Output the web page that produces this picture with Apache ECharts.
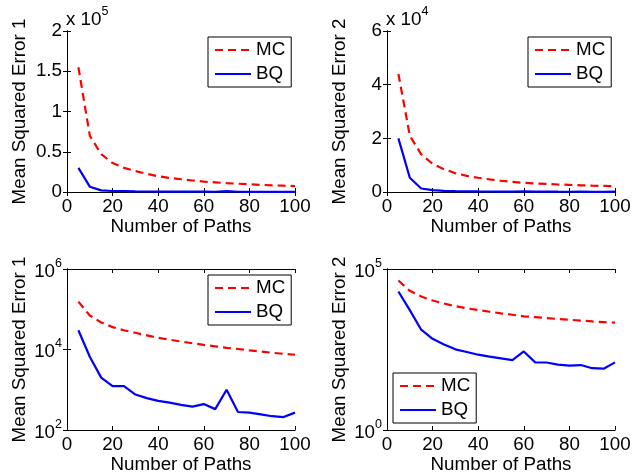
<!DOCTYPE html>
<html>
<head>
<meta charset="utf-8">
<script src="https://cdn.jsdelivr.net/npm/echarts@6/dist/echarts.min.js"></script>
<style>
html,body{margin:0;padding:0;background:#fff;}
#chart{width:642px;height:476px;}
</style>
</head>
<body>
<div id="chart"></div>
<script>
var paths = [5,10,15,20,25,30,35,40,45,50,55,60,65,70,75,80,85,90,95,100];
var mc1 = [155000,70000,47000,36000,30000,26000,22500,19500,17500,15800,14300,13000,12000,11000,10300,9500,8900,8300,7800,7400];
var bq1 = [30000,6600,2000,1230,1230,760,620,530,480,420,380,440,330,1000,280,270,245,220,210,270];
var mc2 = [44000,21000,14000,10500,8500,7000,6000,5300,4700,4200,3800,3400,3200,3000,2800,2650,2500,2350,2250,2150];
var bq2 = [20000,5300,1300,680,450,320,265,218,190,168,148,275,126,125,107,100,104,83,80,126];
var yNames = ['Mean Squared Error 1','Mean Squared Error 2','Mean Squared Error 1','Mean Squared Error 2'];
var xName = 'Number of Paths';

var font = '"Liberation Sans", Arial, Helvetica, sans-serif';
var fs = 18.8;
var black = '#000';
var red = '#ff0000';
var blue = '#0000ff';

var grids = [
    {left:67, top:31, width:228, height:161},
    {left:387, top:31, width:228, height:161},
    {left:67, top:269, width:228, height:161},
    {left:387, top:269, width:228, height:161}
];

function toXY(ys){
    return paths.map(function(p, i){ return [p, ys[i]]; });
}
function supLabel(v){
    return '{b|10}{s|' + Math.round(Math.log(v) / Math.LN10) + '}';
}

var tickStyle = {show:true, inside:true, length:4, lineStyle:{color:black, width:1}};
var lineStyle = {show:true, lineStyle:{color:black, width:1}};
var supRich = {
    b:{fontSize:fs, fontFamily:font, color:black, verticalAlign:'bottom', lineHeight:24},
    s:{fontSize:12.5, fontFamily:font, color:black, verticalAlign:'top', lineHeight:24}
};

var xAxes = [], yAxes = [];
for (var g = 0; g < 4; ++g){
    xAxes.push({
        type:'value', gridIndex:g, min:0, max:100, interval:20,
        name:xName, nameLocation:'middle', nameGap:20,
        nameTextStyle:{color:black, fontSize:fs, fontFamily:font},
        axisLine:lineStyle, axisTick:tickStyle, splitLine:{show:false},
        axisLabel:{color:black, fontSize:fs, fontFamily:font, margin:5}
    });
}
for (g = 0; g < 4; ++g){
    xAxes.push({
        type:'value', gridIndex:g, position:'top', min:0, max:100, interval:20,
        axisLine:lineStyle, axisTick:tickStyle, splitLine:{show:false},
        axisLabel:{show:false}
    });
}

var yCfg = [
    {type:'value', min:0, max:200000, interval:50000, fmt:function(v){ return String(v / 100000); }},
    {type:'value', min:0, max:60000, interval:20000, fmt:function(v){ return String(v / 10000); }},
    {type:'log', min:100, max:1000000, ticks:[100,10000,1000000]},
    {type:'log', min:1, max:100000, ticks:[1,100000]}
];
for (var k = 0; k < 2; ++k){
    for (g = 0; g < 4; ++g){
        var c = yCfg[g];
        var ax = {
            type:c.type, gridIndex:g, min:c.min, max:c.max,
            position: k === 0 ? 'left' : 'right',
            axisLine:lineStyle, splitLine:{show:false},
            axisTick:echarts.util.extend({}, tickStyle)
        };
        if (c.type === 'log'){
            ax.logBase = 10;
            ax.axisTick.customValues = c.ticks;
            ax.axisLabel = {customValues:c.ticks, formatter:supLabel, rich:supRich, margin:5, show:k === 0};
        } else {
            ax.interval = c.interval;
            ax.axisLabel = {color:black, fontSize:fs, fontFamily:font, margin:5, formatter:c.fmt, show:k === 0};
        }
        if (k === 0){
            ax.name = yNames[g];
            ax.nameLocation = 'middle';
            ax.nameGap = 38;
            ax.nameTextStyle = {color:black, fontSize:fs, fontFamily:font};
        }
        yAxes.push(ax);
    }
}

var seriesData = [[mc1, bq1], [mc2, bq2], [mc1, bq1], [mc2, bq2]];
var series = [];
for (g = 0; g < 4; ++g){
    series.push({
        name:'MC', type:'line', xAxisIndex:g, yAxisIndex:g,
        data:toXY(seriesData[g][0]), symbol:'none', animation:false,
        lineStyle:{color:red, width:2.2, type:[8,5]}, itemStyle:{color:red}
    });
    series.push({
        name:'BQ', type:'line', xAxisIndex:g, yAxisIndex:g,
        data:toXY(seriesData[g][1]), symbol:'none', animation:false,
        lineStyle:{color:blue, width:2.2, type:'solid'}, itemStyle:{color:blue}
    });
}

var legendPos = [
    {left:208, top:37},
    {left:528, top:37},
    {left:208, top:275},
    {left:393, top:373}
];
var legends = legendPos.map(function(p){
    return {
        data:['MC','BQ'], orient:'vertical', left:p.left, top:p.top,
        itemWidth:36, itemHeight:14, itemGap:4,
        padding:[3,6,3,6], borderColor:black, borderWidth:1, backgroundColor:'#fff',
        itemStyle:{opacity:0},
        textStyle:{color:black, fontSize:fs, fontFamily:font, lineHeight:20},
        selectedMode:false
    };
});

var titleRich = {
    a:{fontSize:fs, fontWeight:'normal', fontFamily:font, color:black, verticalAlign:'bottom', lineHeight:24},
    p:{fontSize:12.5, fontWeight:'normal', fontFamily:font, color:black, verticalAlign:'top', lineHeight:24}
};
var titles = [
    {text:'{a|x 10}{p|5}', left:66, top:5, padding:0, textStyle:{fontWeight:'normal', rich:titleRich}},
    {text:'{a|x 10}{p|4}', left:386, top:5, padding:0, textStyle:{fontWeight:'normal', rich:titleRich}}
];

var option = {
    backgroundColor:'#fff',
    animation:false,
    title:titles,
    grid:grids,
    xAxis:xAxes,
    yAxis:yAxes,
    legend:legends,
    series:series
};
var chart = echarts.init(document.getElementById('chart'));
chart.setOption(option);
</script>
</body>
</html>
